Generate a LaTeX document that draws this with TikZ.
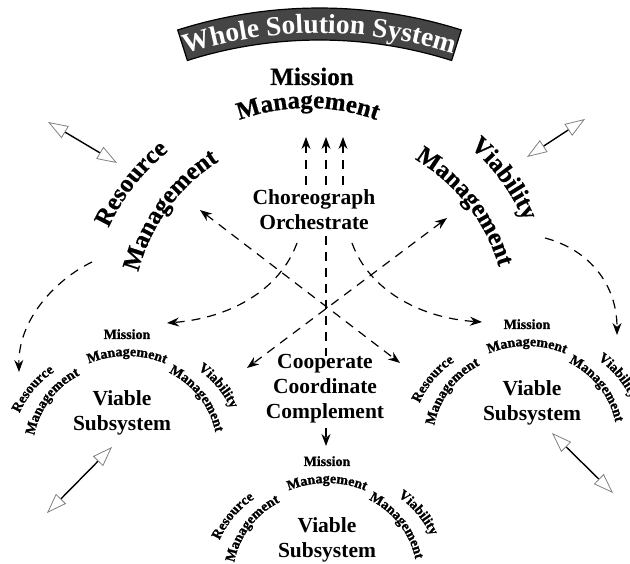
\documentclass[tikz,border=0pt]{standalone}
\usepackage{fontspec}
\setmainfont{Liberation Serif}
\usetikzlibrary{arrows.meta,decorations.text,calc}
\definecolor{bannergray}{gray}{0.27}
\definecolor{headgray}{gray}{0.5}
\newcommand\bannerfont{\bfseries\fontsize{27.5}{27.5}\selectfont}
\newcommand\bigf{\bfseries\addfontfeatures{FakeBold=0.6}\fontsize{25}{25}\selectfont}
\newcommand\midf{\bfseries\fontsize{21.5}{25}\selectfont}
\newcommand\smallf{\bfseries\addfontfeatures{FakeBold=1.2}\fontsize{14}{14}\selectfont}
% [colour]{x}{y}{reading angle}{radius}{font}{text}
\newcommand\arctext[7][black]{%
  \pgfmathsetmacro\aang{#4+90}%
  \pgfmathsetmacro\asp{min(170,200/#5*57.2958)}%
  \pgfmathsetmacro\astart{\aang+\asp}%
  \pgfmathsetmacro\aend{\aang-\asp}%
  \path[decorate,decoration={text along path,text align=center,text color=#1,text={|#6|#7}}]
   ({#2+#5*cos(\astart)-#5*cos(\aang)},{#3+#5*sin(\astart)-#5*sin(\aang)})
   arc[start angle=\astart,end angle=\aend,radius=#5];}
% {name}{x}{y}{x offset of "Viable Subsystem"}
\newcommand\subsys[4]{%
  \begin{scope}[shift={(#2,#3)}]
    \node[font=\smallf,anchor=base] (#1-m) at (0,-6) {Mission};
    \arctext{0}{-23}{0}{100}{\smallf}{Management}
    \arctext{-93}{-57}{50}{100}{\smallf}{Resource}
    \arctext{-77}{-67}{53}{85}{\smallf}{Management}
    \arctext{90}{-54}{-50}{100}{\smallf}{Viability}
    \arctext{72}{-64}{-52}{85}{\smallf}{Management}
    \node[font=\midf,align=center] (#1-v) at (#4,-79.5) {Viable\\Subsystem};
  \end{scope}}
\tikzset{
  dsh/.style={line width=1.2pt,dash pattern=on 9pt off 7pt},
  stk/.style={-{Stealth[length=12pt,width=9pt]}},
  stkboth/.style={{Stealth[length=12pt,width=9pt]}-{Stealth[length=12pt,width=9pt]}},
  hollow/.style={line width=1.4pt,
    {Triangle[length=20pt,width=14pt,line width=0.8pt,color=headgray,fill=white]}-{Triangle[length=20pt,width=14pt,line width=0.8pt,color=headgray,fill=white]}}
}
\begin{document}
\begin{tikzpicture}[x=1pt,y=1pt]
\useasboundingbox (0,0) rectangle (630,563);
% banner
\begin{scope}[shift={(319.5,86)}]
  \filldraw[fill=bannergray,draw=black,line width=1.2pt]
    (107.6:469) arc[start angle=107.6,end angle=72.4,radius=469]
    -- (72.4:437) arc[start angle=72.4,end angle=107.6,radius=437] -- cycle;
\end{scope}
\arctext[white]{319.5}{530}{0}{444}{\bannerfont}{Whole Solution System}
% big labels
\node[font=\bigf,anchor=base] (mission) at (312,478) {Mission};
\arctext{308}{455}{0}{200}{\bigf}{Management}
\arctext{134}{377}{52}{210}{\bigf}{Resource}
\arctext{168}{354}{54}{185}{\bigf}{Management}
\arctext{501}{382}{-54}{210}{\bigf}{Viability}
\arctext{467}{358}{-52}{185}{\bigf}{Management}
\node[font=\midf,align=center] (choreo) at (314,353) {Choreograph\\Orchestrate};
\node[font=\midf,align=center] (coop) at (325,174) {Cooperate\\Coordinate\\Complement};
% subsystems
\subsys{L}{127}{230}{-5}
\subsys{R}{527}{240}{5}
\subsys{B}{327}{103}{0}
% coordinates
\coordinate (u1s) at (306,378); \coordinate (u1e) at (306,426);
\coordinate (u2s) at (326,378); \coordinate (u2e) at (326,426);
\coordinate (u3s) at (343,378); \coordinate (u3e) at (343,426);
\coordinate (c1s) at (297,320); \coordinate (c1e) at (167,240);
\coordinate (c2s) at (352,320); \coordinate (c2e) at (482,241);
\coordinate (vs) at (326,327); \coordinate (ve) at (326,207);
\coordinate (ds) at (326,135); \coordinate (de) at (326,117);
\coordinate (as) at (200,353); \coordinate (ae) at (400,200);
\coordinate (bs) at (447,345); \coordinate (be) at (247,195);
\coordinate (rs) at (92,301); \coordinate (re) at (19,191);
\coordinate (ws) at (545,325); \coordinate (we) at (617,228);
\coordinate (h1a) at (48,441); \coordinate (h1b) at (117,400);
\coordinate (h2a) at (585,444); \coordinate (h2b) at (527,406);
\coordinate (h3a) at (112,116); \coordinate (h3b) at (47,50);
\coordinate (h4a) at (552,130); \coordinate (h4b) at (613,70);
% dashed connectors
\draw[dsh,stk] (u1s) -- (u1e);
\draw[dsh,stk] (u2s) -- (u2e);
\draw[dsh,stk] (u3s) -- (u3e);
\draw[dsh,stk] (c1s) .. controls (280,273) and (230,245) .. (c1e);
\draw[dsh,stk] (c2s) .. controls (369,273) and (420,245) .. (c2e);
\draw[dsh] (vs) -- (ve);
\draw[dsh,stk] (ds) -- (de);
\draw[dsh,stkboth] (as) -- (ae);
\draw[dsh,stkboth] (bs) -- (be);
\draw[dsh,stk] (rs) .. controls (55,283) and (18,243) .. (re);
\draw[dsh,stk] (ws) .. controls (590,313) and (617,278) .. (we);
% hollow double arrows
\draw[hollow] (h1a) -- (h1b);
\draw[hollow] (h2a) -- (h2b);
\draw[hollow] (h3a) -- (h3b);
\draw[hollow] (h4a) -- (h4b);
\end{tikzpicture}
\end{document}
